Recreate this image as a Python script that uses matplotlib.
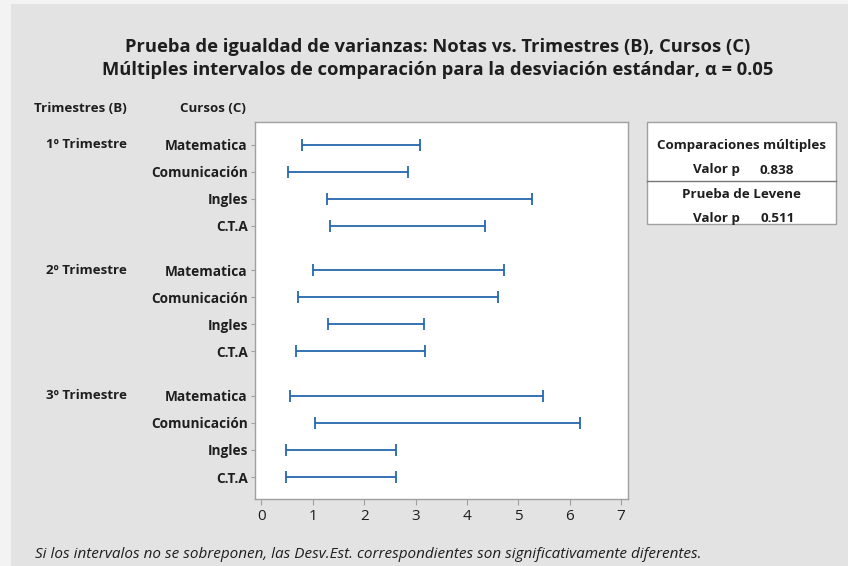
import matplotlib
matplotlib.use("Agg")
import matplotlib.pyplot as plt
import matplotlib.transforms as mtransforms
from matplotlib.patches import Rectangle
from matplotlib.lines import Line2D

plt.rcParams["font.family"] = ["Open Sans", "DejaVu Sans"]

# Data
trimestres = ["1º Trimestre", "2º Trimestre", "3º Trimestre"]
cursos = ["Matematica", "Comunicación", "Ingles", "C.T.A"]
lower = [
    [0.79, 0.51, 1.28, 1.34],
    [1.01, 0.71, 1.30, 0.67],
    [0.56, 1.05, 0.47, 0.47],
]
upper = [
    [3.09, 2.85, 5.26, 4.35],
    [4.72, 4.60, 3.17, 3.19],
    [5.48, 6.20, 2.62, 2.62],
]
p_multi = 0.838
p_levene = 0.511
x_ticks = [0, 1, 2, 3, 4, 5, 6, 7]

BG = "#e3e3e3"
BLUE = "#2467b0"
GRAY = "#a0a0a0"
TXT = "#1e1e1e"

fig = plt.figure(figsize=(8.48, 5.66), dpi=100, facecolor="#f3f3f3")
fig.patches.append(Rectangle((11 / 848, 0), 1 - 11 / 848, 1 - 4 / 566,
                             transform=fig.transFigure, facecolor=BG,
                             edgecolor="none", zorder=-10))

ax = fig.add_axes([254.7 / 848, 1 - 499 / 566, 373 / 848, (499 - 122.3) / 566])
ax.set_facecolor("white")
lab_tr = mtransforms.blended_transform_factory(fig.transFigure, ax.transData)

gap = 0.64
ypos, ylabels = [], []
for g, trim in enumerate(trimestres):
    for r, curso in enumerate(cursos):
        y = g * (len(cursos) + gap) + r
        ypos.append(y)
        ylabels.append(curso)
        ax.errorbar([(lower[g][r] + upper[g][r]) / 2], [y],
                    xerr=[[(upper[g][r] - lower[g][r]) / 2]],
                    fmt="none", ecolor=BLUE, elinewidth=1.3,
                    capsize=4.5, capthick=1.3)
    # trimestre label on the first course row
    ax.text(127 / 848, g * (len(cursos) + gap), trim, transform=lab_tr,
            ha="right", va="center", fontsize=9.6, fontweight="bold", color=TXT,
            clip_on=False)

ax.set_xlim(-0.13, 7.13)
ax.set_ylim(ypos[-1] + 0.81, -0.82)
ax.set_xticks(x_ticks)
ax.set_xticklabels([str(t) for t in x_ticks], fontsize=11, color=TXT)
ax.set_yticks(ypos)
ax.set_yticklabels(ylabels, fontsize=9.8, fontweight="bold", color=TXT)
ax.tick_params(axis="y", length=3, color=GRAY, pad=2)
ax.tick_params(axis="x", length=4, color=GRAY, pad=3)
for s in ax.spines.values():
    s.set_edgecolor(GRAY)
    s.set_linewidth(1.0)

# Titles and headers
fig.text(438 / 848, 1 - 47 / 566,
         "Prueba de igualdad de varianzas: Notas vs. Trimestres (B), Cursos (C)",
         ha="center", va="center", fontsize=13.2, fontweight="bold", color=TXT)
fig.text(438 / 848, 1 - 70 / 566,
         "Múltiples intervalos de comparación para la desviación estándar, α = 0.05",
         ha="center", va="center", fontsize=13.2, fontweight="bold", color=TXT)
fig.text(127 / 848, 1 - 108 / 566, "Trimestres (B)", ha="right", va="center",
         fontsize=9.6, fontweight="bold", color=TXT)
fig.text(180 / 848, 1 - 108 / 566, "Cursos (C)", ha="left", va="center",
         fontsize=9.6, fontweight="bold", color=TXT)

# p-value box
bx0, bx1, by0, by1, bym = 647, 836, 122.5, 224, 180.7
fig.patches.append(Rectangle((bx0 / 848, 1 - by1 / 566), (bx1 - bx0) / 848,
                             (by1 - by0) / 566, transform=fig.transFigure,
                             facecolor="white", edgecolor=GRAY, lw=1.0))
fig.lines.append(Line2D([bx0 / 848, bx1 / 848], [1 - bym / 566, 1 - bym / 566],
                        transform=fig.transFigure, color="#777777", lw=1.0))
bc = (bx0 + bx1) / 2 / 848
fig.text(bc, 1 - 145 / 566, "Comparaciones múltiples", ha="center", va="center",
         fontsize=9.6, fontweight="bold", color=TXT)
fig.text(716 / 848, 1 - 170 / 566, "Valor p", ha="center", va="center",
         fontsize=9.6, fontweight="bold", color=TXT)
fig.text(777 / 848, 1 - 170 / 566, f"{p_multi:.3f}", ha="center", va="center",
         fontsize=9.6, fontweight="bold", color=TXT)
fig.text(bc, 1 - 195 / 566, "Prueba de Levene", ha="center", va="center",
         fontsize=9.6, fontweight="bold", color=TXT)
fig.text(716 / 848, 1 - 218 / 566, "Valor p", ha="center", va="center",
         fontsize=9.6, fontweight="bold", color=TXT)
fig.text(778 / 848, 1 - 218 / 566, f"{p_levene:.3f}", ha="center", va="center",
         fontsize=9.6, fontweight="bold", color=TXT)

fig.text(35 / 848, 1 - 555 / 566,
         "Si los intervalos no se sobreponen, las Desv.Est. correspondientes son "
         "significativamente diferentes.",
         ha="left", va="center", fontsize=11, style="italic", color=TXT)

fig.savefig("out.png", dpi=100, facecolor=fig.get_facecolor())
